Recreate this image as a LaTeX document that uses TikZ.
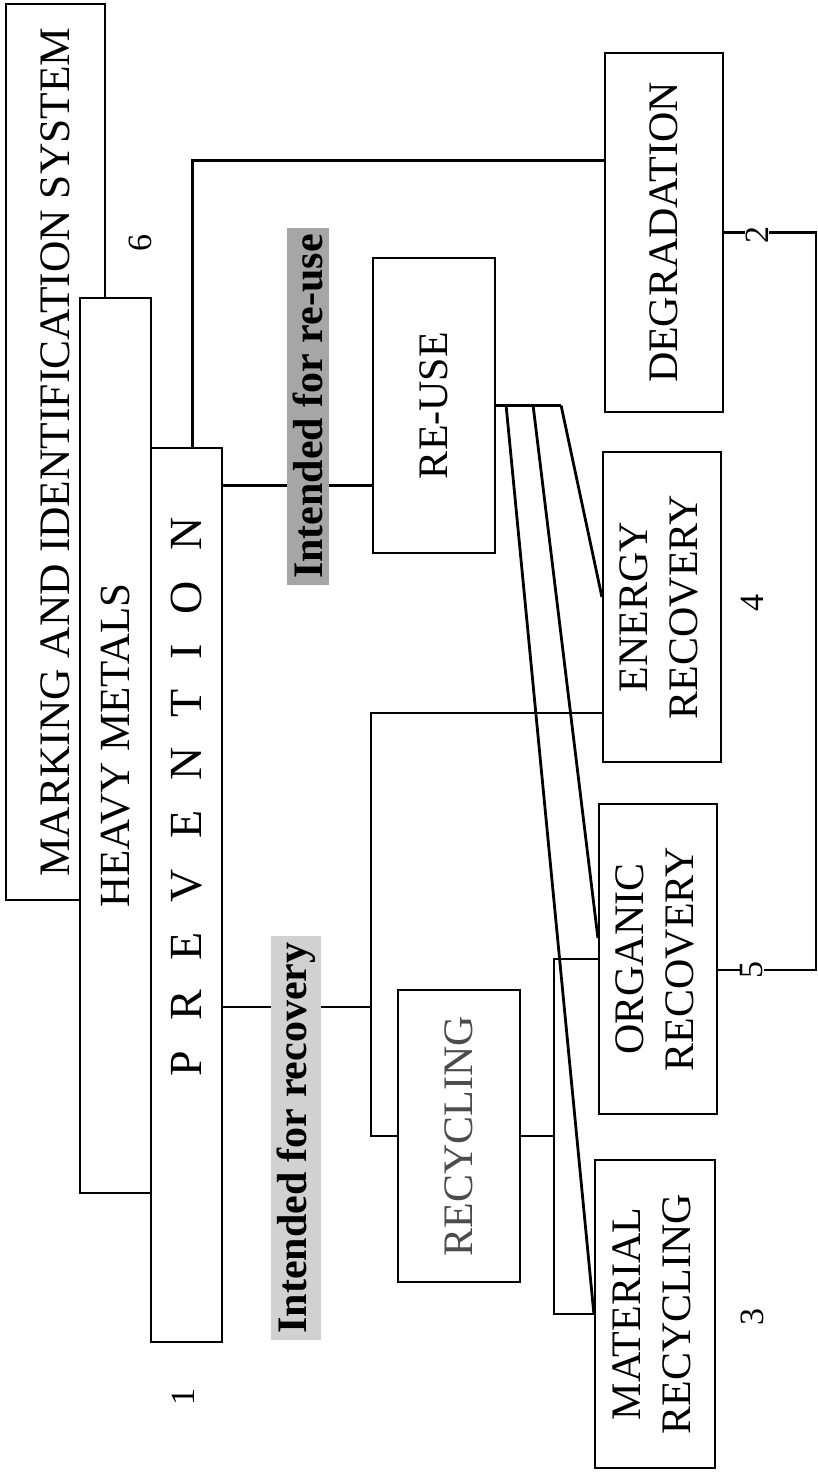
\documentclass[tikz,border=0pt]{standalone}
\usepackage{fontspec}
\setmainfont{Liberation Serif}
\usepackage{graphicx}
\usepackage{tikz}
\usetikzlibrary{calc}

\begin{document}
\begin{tikzpicture}[x=1pt,y=-1pt,line width=2.2pt]
\tikzstyle{blk}=[rectangle,draw,fill=white,inner sep=0pt,font=\fontsize{42}{50}\selectfont]
\tikzstyle{tag}=[rectangle,inner xsep=6pt,inner ysep=6pt,font=\fontsize{42}{46}\selectfont\bfseries]
\tikzstyle{num}=[fill=white,inner sep=1pt,font=\fontsize{34}{36}\selectfont]
\fill[white] (0,0) rectangle (818,1472);
\node[blk,minimum width=99pt,minimum height=896pt,font=\fontsize{43.5}{48}\selectfont] (mark) at (55.5,452) {\rotatebox{90}{MARKING AND IDENTIFICATION SYSTEM}};
\node[blk,minimum width=71pt,minimum height=895pt,font=\fontsize{43}{48}\selectfont] (heavy) at (115.5,745.5) {\rotatebox{90}{HEAVY METALS}};
\node[blk,minimum width=71pt,minimum height=894pt,font=\fontsize{46}{50}\selectfont] (prev) at (186.5,895) {\rotatebox{90}{\hspace*{196pt}\spaceskip=30pt P R E V E N T I O N}};
\node[blk,minimum width=122pt,minimum height=295pt] (reuse) at (434,405.5) {\rotatebox{90}{RE-USE}};
\node[blk,minimum width=118pt,minimum height=359pt] (degr) at (664,232.5) {\rotatebox{90}{DEGRADATION}};
\node[blk,minimum width=118pt,minimum height=310pt] (energy) at (662,607) {\rotatebox{90}{\begin{tabular}{@{}c@{}}ENERGY\\RECOVERY\end{tabular}}};
\node[blk,minimum width=118pt,minimum height=310pt] (orgrec) at (658,959) {\rotatebox{90}{\begin{tabular}{@{}c@{}}ORGANIC\\RECOVERY\end{tabular}}};
\node[blk,minimum width=120pt,minimum height=308pt] (matrec) at (655,1314) {\rotatebox{90}{\begin{tabular}{@{}c@{}}MATERIAL\\RECYCLING\end{tabular}}};
\node[blk,minimum width=122pt,minimum height=292pt,text=black!70] (recyc) at (459,1136) {\rotatebox{90}{RECYCLING}};
\coordinate (reusein) at ($(reuse.west)+(0,80)$);
\draw (prev.east |- reusein) -- (reusein);
\draw ($(prev.north)+(6,0)$) |- ($(degr.west)+(0,-72)$);
\coordinate (recin) at ($(prev.east)+(0,112)$);
\draw (recin) -- ++(148,0) coordinate (recfork);
\draw (recyc.west) -| (recfork) |- ($(energy.west)+(0,106)$);
\draw (recyc.east) -- ++(33,0) coordinate (recsplit);
\draw (orgrec.west) -| (recsplit) |- (matrec.west);
\draw[line width=2.8pt] (reuse.east) -- ++(65,0);
\draw[line width=2.8pt] ($(reuse.east)+(10,0)$) -- (matrec.west);
\draw[line width=2.8pt] ($(reuse.east)+(37,0)$) -- ($(orgrec.west)+(0,-21)$);
\draw[line width=2.8pt] ($(reuse.east)+(65,0)$) -- ($(energy.west)+(0,-10)$);
\draw (degr.east) -- ++(92,0) |- ($(orgrec.east)+(0,11)$);
\node[tag,fill=black!35] (toreuse) at (308,406.5) {\rotatebox{90}{Intended for re-use}};
\node[tag,fill=black!18] (torecov) at (296,1138) {\rotatebox{90}{Intended for recovery}};
\node[num] (n1) at (183,1397) {\rotatebox{90}{1}};
\node[num] (n2) at (757,235) {\rotatebox{90}{2}};
\node[num] (n3) at (752,1317) {\rotatebox{90}{3}};
\node[num] (n4) at (752,603) {\rotatebox{90}{4}};
\node[num] (n5) at (752,970) {\rotatebox{90}{5}};
\node[num] (n6) at (140,243) {\rotatebox{90}{6}};
\end{tikzpicture}
\end{document}
